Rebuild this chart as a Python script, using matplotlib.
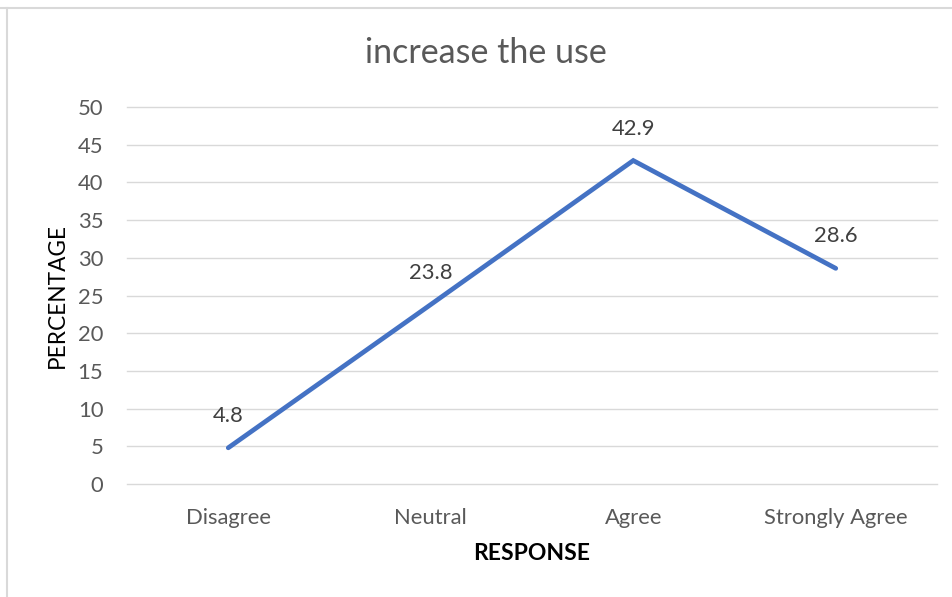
import matplotlib
matplotlib.use("Agg")
import matplotlib.pyplot as plt
from matplotlib.lines import Line2D

categories = ["Disagree", "Neutral", "Agree", "Strongly Agree"]
percentages = [4.8, 23.8, 42.9, 28.6]
y_ticks = [0, 5, 10, 15, 20, 25, 30, 35, 40, 45, 50]

plt.rcParams['font.family'] = ['Lato', 'DejaVu Sans']

W, H = 953, 597
fig = plt.figure(figsize=(W / 100, H / 100), dpi=100)
fig.patch.set_facecolor("white")

# plot area in pixel coordinates
left, right = 127, 937
top, bottom = 107, 484
ax = fig.add_axes([left / W, 1 - bottom / H, (right - left) / W, (bottom - top) / H])

ax.set_xlim(-0.5, len(categories) - 0.5)
ax.set_ylim(0, 50)
ax.set_yticks(y_ticks)
ax.yaxis.grid(True, color="#d9d9d9", linewidth=1.0)
for gl in ax.get_ygridlines():
    gl.set_clip_on(False)
ax.set_axisbelow(True)
for s in ax.spines.values():
    s.set_visible(False)
ax.tick_params(axis="both", length=0, colors="#595959", labelsize=15.8)
ax.tick_params(axis="y", pad=17)
ax.tick_params(axis="x", pad=17)
ax.set_xticks(range(len(categories)))
ax.set_xticklabels(categories)

x = list(range(len(categories)))
ax.plot(x, percentages, color="#4472C4", linewidth=3.4, solid_capstyle="round",
        solid_joinstyle="miter", clip_on=False, zorder=3)

for xi, v in zip(x, percentages):
    ax.annotate(f"{v}", (xi, v), xytext=(0, 23), textcoords="offset points",
                ha="center", va="center", fontsize=15.8, color="#404040")

fig.text(486 / W, 1 - 53 / H, "increase the use", ha="center", va="center",
         fontsize=24.5, color="#595959")
fig.text(57 / W, 1 - 296 / H, "PERCENTAGE", ha="center", va="center",
         rotation=90, fontsize=16.3, color="#000000")
fig.text(532 / W, 1 - 554 / H, "RESPONSE", ha="center", va="center",
         fontsize=16.5, fontweight="bold", color="#000000")

# chart frame edges
fig.add_artist(Line2D([0, 1], [1 - 8 / H, 1 - 8 / H], transform=fig.transFigure,
                      color="#d9d9d9", linewidth=1.5))
fig.add_artist(Line2D([6.5 / W, 6.5 / W], [0, 1 - 8 / H], transform=fig.transFigure,
                      color="#d9d9d9", linewidth=1.5))

fig.savefig("out.png", dpi=100, facecolor="white")
